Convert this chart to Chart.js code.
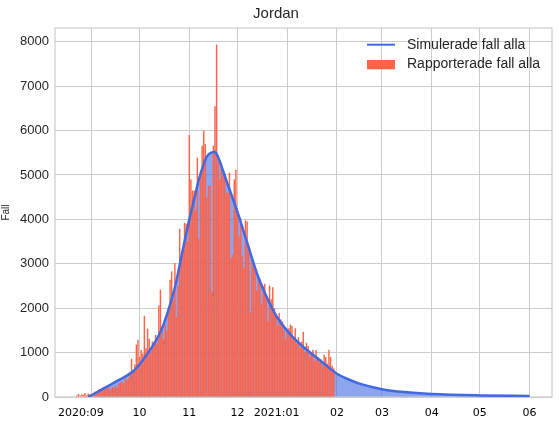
<!DOCTYPE html>
<html>
<head>
<meta charset="utf-8">
<script src="https://cdn.jsdelivr.net/npm/chart.js@4.4.1/dist/chart.umd.min.js"></script>
<style>
  html, body { margin: 0; padding: 0; background: #ffffff; }
  #wrap { width: 559px; height: 426px; }
</style>
</head>
<body>
<div id="wrap"><canvas id="c" width="559" height="426"></canvas></div>
<script>
// ---- data (day numbers counted from 2020-09-01 = day 0) ----
const chartTitle = "Jordan";
const yAxisTitle = "Fall";
const simLabel = "Simulerade fall alla";
const repLabel = "Rapporterade fall alla";

// reported daily cases, first value is day -9 (2020-08-23)
const reportedStartDay = -9;
const reportedCases = [
  40, 70, 30, 60, 50, 90, 40, 80, 60,
  50, 80, 120, 100, 150, 180, 130, 200, 170, 220,
  190, 240, 160, 230, 200, 260, 210, 300, 330, 350,
  300, 465, 380, 420, 500, 860, 560, 730, 1180, 1290,
  900, 1060, 980, 1830, 1100, 1540, 1310, 1000, 1250, 1150,
  1400, 1200, 2060, 2420, 1520, 1300, 1620, 1500, 1900, 2640,
  2830, 2200, 3020, 1800, 2500, 3790, 3100, 3300, 3920, 3900,
  3500, 5900, 4900, 4650, 4650, 4200, 5390, 3560, 5000, 5660,
  6000, 5700, 4500, 4760, 4770, 2350, 5660, 6550, 7940, 5300,
  4900, 5270, 5000, 5040, 4600, 4600, 5050, 3130, 3200, 4900,
  5120, 4180, 3620, 4030, 3170, 2900, 3980, 3950, 3400, 1900,
  3050, 3000, 2870, 2400, 2700, 2650, 2100, 2500, 2550, 2300,
  1700, 2510, 2200, 2470, 2000, 1800, 1600, 1890, 1750, 1700,
  1500, 1300, 1450, 1550, 1630, 1600, 1300, 1550, 1200, 1350,
  1100, 1250, 1470, 1000, 1220, 1150, 900, 1000, 1065, 800,
  1060, 900, 780, 850, 700, 950, 900, 750, 1065, 900,
  700, 640
];

// simulated curve, read at these days
const simDays = [-2, 0, 5, 10, 15, 20, 26, 32, 38, 42, 45, 49, 53, 55, 58, 61, 64, 67, 70, 72, 75, 77, 79, 81, 85, 91, 97, 104, 110, 116, 126, 131, 142, 153, 160, 167, 181, 195, 212, 242, 273];
const simValues = [0, 40, 140, 240, 340, 440, 580, 830, 1140, 1390, 1640, 2080, 2620, 2980, 3500, 4000, 4450, 4900, 5250, 5420, 5510, 5520, 5400, 5200, 4780, 4170, 3480, 2700, 2190, 1780, 1330, 1160, 840, 525, 400, 300, 175, 110, 68, 36, 22];

// x-axis ticks (month starts) and labels
const xTickDays = [0, 30, 61, 91, 122, 153, 181, 212, 242, 273];
const xTickLabels = ["2020:09      ", "10", "11", "12", "2021:01      ", "02", "03", "04", "05", "06"];
const xMin = -22.7, xMax = 287;

// y-axis ticks
const yTicks = [0, 1000, 2000, 3000, 4000, 5000, 6000, 7000, 8000];
const yMin = 0, yMax = 8310;

// ---- colours ----
const lineColor = "#4169E1";
const fillColor = "rgba(65,105,225,0.6)";
const barColor = "#FF6347";
const gridColor = "#cccccc";
const textColor = "#262626";

const reportedPoints = reportedCases.map((v, i) => ({ x: reportedStartDay + i, y: v }));
const simPoints = simDays.map((d, i) => ({ x: d, y: simValues[i] }));

const framePlugin = {
  id: "frame",
  beforeDatasetsDraw(chart) {
    const a = chart.chartArea, ctx = chart.ctx;
    ctx.save();
    ctx.strokeStyle = gridColor;
    ctx.lineWidth = 1.2;
    ctx.strokeRect(a.left, a.top, a.right - a.left, a.bottom - a.top);
    ctx.restore();
  }
};

const legendPlugin = {
  id: "customLegend",
  afterDraw(chart) {
    const ctx = chart.ctx;
    const x0 = 367, x1 = 395;
    ctx.save();
    ctx.strokeStyle = lineColor;
    ctx.lineWidth = 2;
    ctx.beginPath();
    ctx.moveTo(x0, 44.7);
    ctx.lineTo(x1, 44.7);
    ctx.stroke();
    ctx.fillStyle = barColor;
    ctx.fillRect(x0, 60, x1 - x0, 9.3);
    ctx.fillStyle = textColor;
    ctx.font = "14px 'Liberation Sans', Arial, sans-serif";
    ctx.textAlign = "left";
    ctx.textBaseline = "middle";
    ctx.fillText(chart.data.datasets[0].label, 407, 45);
    ctx.fillText(chart.data.datasets[1].label, 407, 64.5);
    ctx.restore();
  }
};

new Chart(document.getElementById("c"), {
  data: {
    datasets: [
      {
        type: "line",
        label: simLabel,
        data: simPoints,
        borderColor: lineColor,
        backgroundColor: fillColor,
        borderWidth: 2.5,
        pointRadius: 0,
        cubicInterpolationMode: "monotone",
        fill: "origin",
        order: 0
      },
      {
        type: "bar",
        label: repLabel,
        data: reportedPoints,
        backgroundColor: barColor,
        borderWidth: 0,
        barPercentage: 0.9,
        categoryPercentage: 1.0,
        grouped: false,
        order: 1
      }
    ]
  },
  options: {
    responsive: false,
    animation: false,
    events: [],
    layout: { padding: { top: 0, right: 7, left: 0, bottom: 0 } },
    plugins: {
      legend: { display: false },
      tooltip: { enabled: false },
      filler: { drawTime: "beforeDatasetsDraw" },
      title: {
        display: true,
        text: chartTitle,
        color: textColor,
        font: { family: "'Liberation Sans', Arial, sans-serif", size: 15, weight: "normal" },
        padding: { top: 5, bottom: 5 }
      }
    },
    scales: {
      x: {
        type: "linear",
        min: xMin,
        max: xMax,
        offset: false,
        afterBuildTicks(scale) { scale.ticks = xTickDays.map(v => ({ value: v })); },
        afterFit(scale) { scale.height = 29; },
        grid: { color: gridColor, lineWidth: 1, drawTicks: false, offset: false },
        border: { display: false },
        ticks: {
          autoSkip: false,
          maxRotation: 0,
          minRotation: 0,
          padding: 10,
          color: "#000000",
          font: { family: "'DejaVu Sans', Verdana, sans-serif", size: 11 },
          callback(value, index) { return xTickLabels[index]; }
        }
      },
      y: {
        type: "linear",
        min: yMin,
        max: yMax,
        afterBuildTicks(scale) { scale.ticks = yTicks.map(v => ({ value: v })); },
        afterFit(scale) { scale.width = 55; },
        grid: { color: gridColor, lineWidth: 1, drawTicks: false },
        border: { display: false },
        title: {
          display: true,
          text: yAxisTitle,
          color: textColor,
          font: { family: "'Liberation Sans', Arial, sans-serif", size: 10 },
          padding: { top: 0, bottom: 0 }
        },
        ticks: {
          padding: 6,
          color: textColor,
          font: { family: "'Liberation Sans', Arial, sans-serif", size: 13 },
          callback(value) { return String(value); }
        }
      }
    }
  },
  plugins: [framePlugin, legendPlugin]
});
</script>
</body>
</html>
